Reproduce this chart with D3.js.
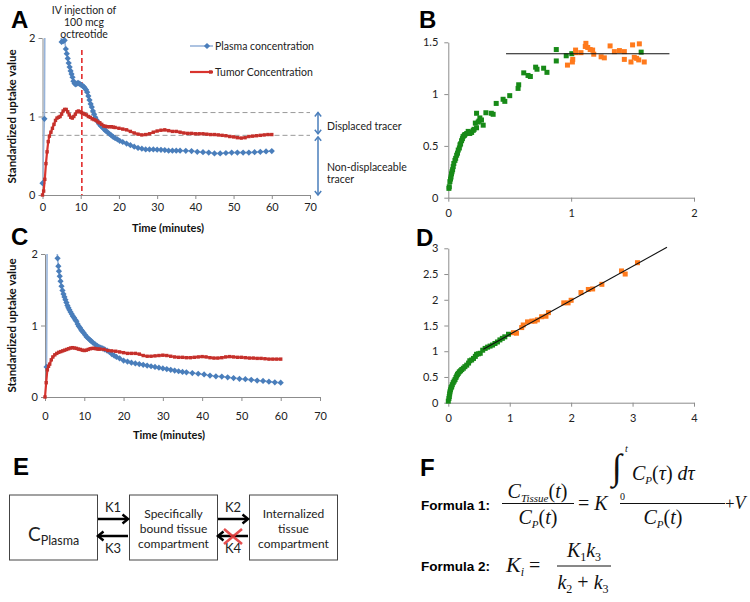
<!DOCTYPE html>
<html><head><meta charset="utf-8">
<script src="https://cdn.jsdelivr.net/npm/d3@7"></script>
<style>body{margin:0;background:#fff}svg{display:block}</style>
</head><body>
<script>
// ---------------- DATA ----------------
const timeTicks = [0,10,20,30,40,50,60,70];
const suvTicks = [0,1,2];

// Panel A
const plasmaA_t = [0,0.5,1,1.5,2,2.5,3,3.5,4,4.5,5.0,5.4,5.8,6.1,6.35,6.6,6.85,7.1,7.35,7.6,7.85,8.1,8.4,8.7,9.0,9.3,9.6,9.9,10.2,10.5,10.8,11.1,11.4,11.7,12.0,12.3,12.6,12.9,13.2,13.5,13.8,14.1,14.5,14.9,15.3,15.7,16.1,16.5,17.0,17.5,18.0,18.5,19.0,19.6,20.2,21,22,23,24,25,26,27,28,29,30,31,32,33,34,35,36,37.5,39,40.5,42,43.5,45,46.5,48,49.5,51,52.5,54,55.5,57,58.5,60];
const plasmaA_v = [0.15,0.97,6.5,5.2,4.3,3.6,3.1,2.7,2.4,2.15,1.95,1.96,1.97,1.86,1.8,1.74,1.68,1.63,1.58,1.54,1.5,1.45,1.42,1.41,1.42,1.43,1.42,1.41,1.4,1.39,1.38,1.36,1.34,1.31,1.26,1.21,1.16,1.12,1.07,1.03,0.99,0.96,0.93,0.9,0.88,0.86,0.84,0.82,0.8,0.78,0.76,0.74,0.725,0.71,0.69,0.675,0.655,0.635,0.615,0.6,0.59,0.58,0.58,0.58,0.578,0.575,0.572,0.565,0.565,0.565,0.565,0.563,0.56,0.55,0.545,0.54,0.53,0.53,0.535,0.54,0.54,0.54,0.54,0.545,0.55,0.555,0.56];
const tumorA_t = [0,0.3,0.6,0.9,1.2,1.5,1.8,2.2,2.6,3.0,3.4,3.8,4.2,4.6,5.0,5.4,5.8,6.2,6.6,7.0,7.4,7.8,8.2,8.6,9.0,9.4,9.8,10.2,10.6,11.0,11.5,12,12.5,13,13.5,14,14.5,15,15.5,16,16.5,17,17.5,18,18.5,19,20,21,22,23,24,25,26,27,28,29,30,31,32,33,34,35,36,37,38,39,40,41,42,43,44,45,46,47,48,49,50,51,52,53,54,55,56,57,58,59,60];
const tumorA_v = [0,0.05,0.2,0.4,0.55,0.68,0.75,0.8,0.85,0.9,0.95,0.98,0.99,1.0,1.03,1.07,1.09,1.09,1.06,1.02,0.99,0.98,1.0,1.03,1.06,1.07,1.06,1.05,1.04,1.03,1.02,1.0,0.99,0.97,0.96,0.95,0.93,0.92,0.9,0.88,0.875,0.87,0.87,0.87,0.865,0.86,0.85,0.84,0.83,0.81,0.79,0.775,0.765,0.77,0.78,0.8,0.815,0.825,0.83,0.82,0.81,0.81,0.8,0.79,0.785,0.785,0.78,0.78,0.78,0.775,0.77,0.77,0.765,0.76,0.755,0.745,0.74,0.73,0.725,0.73,0.745,0.75,0.755,0.76,0.765,0.77,0.77];
const displacedLevels = [1.05, 0.76];
const injectionTime = 10.3;

// Panel C
const plasmaC_t = [0.4,1,1.5,2,2.5,3.0,3.2,3.4,3.55,3.75,3.95,4.2,4.45,4.7,4.95,5.2,5.45,5.7,5.95,6.2,6.5,6.8,7.1,7.4,7.7,8.0,8.3,8.6,8.9,9.2,9.5,9.8,10.2,10.6,11.0,11.4,11.8,12.2,12.7,13.2,13.7,14.2,14.7,15.2,15.8,16.4,17.0,17.6,18.2,19,20,21,22,23,24,25,26,27,28,29,30,31,32,33,34,35,36,37.5,39,40.5,42,43.5,45,46.5,48,49.5,51,52.5,54,55.5,57,58.5,60];
const plasmaC_v = [0.42,8,5,3.5,2.6,2.1,1.94,1.83,1.76,1.69,1.62,1.55,1.49,1.44,1.4,1.36,1.32,1.28,1.25,1.22,1.19,1.16,1.13,1.11,1.08,1.06,1.02,0.99,0.97,0.94,0.92,0.9,0.87,0.84,0.82,0.8,0.78,0.76,0.74,0.72,0.7,0.69,0.68,0.665,0.65,0.63,0.6,0.58,0.56,0.54,0.51,0.495,0.48,0.47,0.46,0.45,0.44,0.43,0.42,0.41,0.4,0.39,0.38,0.37,0.36,0.35,0.345,0.335,0.325,0.315,0.3,0.29,0.285,0.275,0.265,0.255,0.25,0.24,0.23,0.225,0.215,0.205,0.2];
const tumorC_t = [0,0.3,0.6,0.9,1.2,1.6,2.0,2.5,3.0,3.5,4.0,4.5,5.0,5.5,6.0,6.5,7.0,7.5,8.0,8.5,9.0,9.5,10,10.5,11,11.5,12,12.5,13,13.5,14,15,16,17,18,19,20,21,22,23,24,25,26,27,28,29,30,31,32,33,34,35,36,37,38,39,40,41,42,43,44,45,46,47,48,49,50,51,52,53,54,55,56,57,58,59,60];
const tumorC_v = [0,0.2,0.38,0.43,0.46,0.52,0.56,0.59,0.61,0.625,0.635,0.645,0.655,0.665,0.675,0.685,0.69,0.685,0.68,0.67,0.665,0.655,0.65,0.655,0.665,0.675,0.68,0.68,0.675,0.67,0.67,0.665,0.65,0.645,0.64,0.63,0.62,0.61,0.61,0.61,0.6,0.58,0.57,0.57,0.575,0.58,0.585,0.58,0.57,0.56,0.555,0.555,0.55,0.55,0.555,0.56,0.565,0.56,0.55,0.545,0.545,0.55,0.56,0.565,0.56,0.555,0.555,0.55,0.545,0.545,0.54,0.54,0.535,0.53,0.53,0.53,0.53];

// Panel B
const bTicksX = [0,1,2];
const bTicksY = [0,0.5,1,1.5];
const bGreen_x = [0.005,0.008,0.013,0.018,0.022,0.026,0.03,0.035,0.04,0.045,0.054,0.06,0.068,0.075,0.081,0.09,0.095,0.1,0.108,0.115,0.12,0.13,0.135,0.15,0.162,0.175,0.19,0.203,0.21,0.22,0.23,0.23,0.243,0.25,0.257,0.27,0.284,0.306,0.35,0.365,0.39,0.446,0.46,0.5,0.568,0.573,0.614,0.649,0.668,0.711,0.722,0.776,0.803,0.879,0.879,0.96,1.005,1.57];
const bGreen_y = [0.09,0.106,0.155,0.18,0.2,0.23,0.25,0.27,0.3,0.33,0.36,0.38,0.41,0.43,0.46,0.48,0.51,0.52,0.55,0.57,0.59,0.6,0.61,0.62,0.64,0.62,0.63,0.65,0.66,0.72,0.675,0.815,0.73,0.74,0.77,0.75,0.7,0.82,0.815,0.805,0.91,0.95,0.93,0.985,1.055,1.09,1.205,1.18,1.17,1.26,1.24,1.25,1.21,1.43,1.32,1.37,1.39,1.405];
const bOrange_x = [0.97,1.01,1.013,1.036,1.04,1.08,1.115,1.12,1.135,1.155,1.175,1.184,1.244,1.27,1.317,1.352,1.393,1.433,1.433,1.487,1.5,1.514,1.533,1.55,1.555,1.595];
const bOrange_y = [1.28,1.31,1.335,1.425,1.4,1.4,1.46,1.49,1.45,1.43,1.425,1.385,1.36,1.35,1.465,1.41,1.42,1.41,1.335,1.31,1.475,1.355,1.345,1.33,1.485,1.31];
const bFit_x = [0.47,1.80];
const bFit_y = [1.39,1.39];

// Panel D
const dTicksX = [0,1,2,3,4];
const dTicksY = [0,0.5,1,1.5,2,2.5,3];
const dGreen_x = [0,0.01,0.016,0.022,0.027,0.035,0.045,0.055,0.065,0.08,0.095,0.11,0.125,0.137,0.15,0.163,0.18,0.2,0.22,0.245,0.27,0.3,0.33,0.35,0.38,0.41,0.44,0.46,0.49,0.52,0.56,0.6,0.64,0.68,0.72,0.76,0.8,0.84,0.88,0.92,0.98];
const dGreen_y = [0.03,0.08,0.12,0.17,0.21,0.25,0.29,0.31,0.35,0.39,0.42,0.45,0.49,0.52,0.55,0.57,0.6,0.62,0.645,0.67,0.7,0.73,0.77,0.815,0.83,0.86,0.9,0.94,0.95,0.96,1.02,1.055,1.08,1.1,1.12,1.15,1.18,1.22,1.25,1.28,1.33];
const dOrange_x = [1.06,1.11,1.195,1.22,1.29,1.36,1.41,1.45,1.52,1.59,1.63,1.88,1.95,2.0,2.16,2.28,2.35,2.5,2.82,2.88,3.08];
const dOrange_y = [1.36,1.35,1.46,1.51,1.57,1.585,1.585,1.61,1.67,1.68,1.75,1.94,1.94,1.99,2.14,2.2,2.21,2.3,2.56,2.5,2.72];
const dFit_x = [0.57,3.56];
const dFit_y = [1.04,3.02];

// ---------------- STYLE ----------------
const FONT = "Lato, 'Open Sans', sans-serif";
const PL_MARK = "#4a7ebb", PL_LINE = "#98b4da";
const TU_LINE = "#d9342e", TU_MARK = "#c4302b";
const GREEN = "#178a17", ORANGE = "#ff7a1c";
const AXIS = "#8c8c8c";

const svg = d3.select("body").append("svg").attr("width",750).attr("height",602)
  .style("font-family",FONT);

function styleAxis(g){
  g.select(".domain").attr("stroke",AXIS).attr("stroke-width",1);
  g.selectAll(".tick line").attr("stroke",AXIS);
  g.selectAll(".tick text").attr("fill","#222").style("font-size","11px").style("font-family",FONT);
}

function panelLetter(t,x,y){
  svg.append("text").attr("x",x).attr("y",y).text(t)
    .style("font-family","'Liberation Sans', Arial, sans-serif").style("font-weight","bold").style("font-size","24px").attr("fill","#000");
}

function timePanel(o){
  const x = d3.scaleLinear().domain([0,70]).range([o.x0,o.x1]);
  const y = d3.scaleLinear().domain([0,2]).range([o.y0,o.y1]);
  const g = svg.append("g");
  g.append("g").attr("transform",`translate(0,${o.y0})`)
    .call(d3.axisBottom(x).tickValues(timeTicks).tickFormat(d=>String(d)).tickSize(4).tickSizeOuter(0).tickPadding(o.xpad)).call(styleAxis);
  g.append("g").attr("transform",`translate(${o.x0},0)`)
    .call(d3.axisLeft(y).tickValues(suvTicks).tickFormat(d=>String(d)).tickSize(4).tickSizeOuter(0).tickPadding(3)).call(styleAxis);
  svg.append("clipPath").attr("id",o.id).append("rect")
    .attr("x",o.x0).attr("y",o.y1).attr("width",o.x1-o.x0).attr("height",o.y0-o.y1);
  const plasma = o.pt.map((t,i)=>({t, v:o.pv[i]}));
  const tumor = o.tt.map((t,i)=>({t, v:o.tv[i]}));
  const line = d3.line().x(d=>x(d.t)).y(d=>y(d.v));
  if (o.extra) o.extra(g,x,y);
  g.append("path").datum(plasma).attr("d",line).attr("fill","none")
    .attr("stroke",PL_LINE).attr("stroke-width",1.6).attr("clip-path",`url(#${o.id})`);
  g.selectAll(null).data(plasma.filter(d=>d.v<=2)).join("rect")
    .attr("x",-2.2).attr("y",-2.2).attr("width",4.4).attr("height",4.4).attr("fill",PL_MARK)
    .attr("transform",d=>`translate(${x(d.t)},${y(d.v)}) rotate(45)`);
  g.append("path").datum(tumor).attr("d",line).attr("fill","none")
    .attr("stroke",TU_LINE).attr("stroke-width",2.2);
  g.selectAll(null).data(tumor).join("rect")
    .attr("x",d=>x(d.t)-1.7).attr("y",d=>y(d.v)-1.7).attr("width",3.4).attr("height",3.4)
    .attr("fill",TU_MARK);
  svg.append("text").attr("transform",`translate(${o.ylabX},${(o.y0+o.y1)/2}) rotate(-90)`)
    .attr("text-anchor","middle").style("font-weight","bold").style("font-size","11.5px").attr("fill","#111")
    .text("Standardized uptake value");
  svg.append("text").attr("x",o.xlabX).attr("y",o.xlabY).attr("text-anchor","middle")
    .style("font-weight","bold").style("font-size","11px").attr("fill","#111").text("Time (minutes)");
  return {x,y};
}

function chevron(g,x,y,dir,size,color,w){
  const a = dir*Math.PI/180, s=size;
  const p1=[x - s*Math.cos(a) + s*0.8*Math.sin(a), y - s*Math.sin(a) - s*0.8*Math.cos(a)];
  const p2=[x - s*Math.cos(a) - s*0.8*Math.sin(a), y - s*Math.sin(a) + s*0.8*Math.cos(a)];
  g.append("path").attr("d",`M${p1}L${x},${y}L${p2}`).attr("fill","none")
    .attr("stroke",color).attr("stroke-width",w).attr("stroke-linejoin","miter");
}

// ---------------- PANEL A ----------------
panelLetter("A",11,28);
timePanel({id:"clipA",x0:42.5,x1:310,y0:195,y1:38,xpad:4,pt:plasmaA_t,pv:plasmaA_v,tt:tumorA_t,tv:tumorA_v,
  ylabX:16,xlabX:168,xlabY:232,
  extra:(g,x,y)=>{
    g.selectAll(null).data(displacedLevels).join("line")
      .attr("x1",x(0)).attr("x2",x(70)).attr("y1",d=>y(d)).attr("y2",d=>y(d))
      .attr("stroke","#999").attr("stroke-width",1).attr("stroke-dasharray","5,3");
    g.append("line").attr("x1",x(injectionTime)).attr("x2",x(injectionTime)).attr("y1",50).attr("y2",y(0))
      .attr("stroke","#e01e1e").attr("stroke-width",1.5).attr("stroke-dasharray","5,3");
    const ax=318;
    const segs=[[y(displacedLevels[0]),y(displacedLevels[1])-1.5],[y(displacedLevels[1])+1.5,y(0)]];
    segs.forEach(([a,b])=>{
      g.append("line").attr("x1",ax).attr("x2",ax).attr("y1",a).attr("y2",b).attr("stroke",PL_MARK).attr("stroke-width",1.5);
      chevron(g,ax,a,-90,4,PL_MARK,1.5);
      chevron(g,ax,b,90,4,PL_MARK,1.5);
    });
    const lg=[{t:"Plasma concentration",y:46,c:PL_LINE,m:PL_MARK,d:true},{t:"Tumor Concentration",y:72,c:TU_LINE,m:TU_MARK,d:false}];
    lg.forEach(l=>{
      g.append("line").attr("x1",190).attr("x2",213).attr("y1",l.y).attr("y2",l.y).attr("stroke",l.c).attr("stroke-width",l.d?1.6:2.2);
      if(l.d) g.append("rect").attr("x",-2.2).attr("y",-2.2).attr("width",4.4).attr("height",4.4).attr("fill",l.m).attr("transform",`translate(207,${l.y}) rotate(45)`);
      else g.append("rect").attr("x",209).attr("y",l.y-1.7).attr("width",3.4).attr("height",3.4).attr("fill",l.m);
      g.append("text").attr("x",215).attr("y",l.y+3.5).text(l.t).style("font-size","10.5px").attr("fill","#222");
    });
  }});
["IV injection of","100 mcg","octreotide"].forEach((t,i)=>{
  svg.append("text").attr("x",84).attr("y",13.5+i*12).attr("text-anchor","middle").style("font-size","10.5px").attr("fill","#222").text(t);
});
[["Displaced tracer",130],["Non-displaceable",171],["tracer",183]].forEach(([t,yy])=>{
  svg.append("text").attr("x",327).attr("y",yy).style("font-size","10.5px").attr("fill","#222").text(t);
});

// ---------------- PANEL C ----------------
panelLetter("C",11,245);
timePanel({id:"clipC",x0:45,x1:320,y0:397,y1:254,xpad:11,pt:plasmaC_t,pv:plasmaC_v,tt:tumorC_t,tv:tumorC_v,
  ylabX:16,xlabX:169,xlabY:439});

// ---------------- PANELS B, D ----------------
function scatterPanel(o){
  const x=d3.scaleLinear().domain(o.xd).range([o.x0,o.x1]);
  const y=d3.scaleLinear().domain(o.yd).range([o.y0,o.y1]);
  const g=svg.append("g");
  g.append("g").attr("transform",`translate(0,${o.y0})`)
    .call(d3.axisBottom(x).tickValues(o.xt).tickFormat(d=>String(d)).tickSize(4).tickSizeOuter(0).tickPadding(8)).call(styleAxis);
  g.append("g").attr("transform",`translate(${o.x0},0)`)
    .call(d3.axisLeft(y).tickValues(o.yt).tickFormat(d=>String(d)).tickSize(4).tickSizeOuter(0).tickPadding(6)).call(styleAxis);
  const drawPts=(xs,ys,c)=>g.selectAll(null).data(xs.map((v,i)=>[v,ys[i]])).join("rect")
    .attr("x",d=>x(d[0])-2.5).attr("y",d=>y(d[1])-2.5).attr("width",5).attr("height",5).attr("fill",c);
  drawPts(o.gx,o.gy,GREEN);
  drawPts(o.ox,o.oy,ORANGE);
  g.append("line").attr("x1",x(o.fx[0])).attr("x2",x(o.fx[1])).attr("y1",y(o.fy[0])).attr("y2",y(o.fy[1]))
    .attr("stroke","#111").attr("stroke-width",1.1);
}
panelLetter("B",419,28);
scatterPanel({xd:[0,2],yd:[0,1.5],x0:448.3,x1:694,y0:197.7,y1:42.3,xt:bTicksX,yt:bTicksY,
  gx:bGreen_x,gy:bGreen_y,ox:bOrange_x,oy:bOrange_y,fx:bFit_x,fy:bFit_y});
panelLetter("D",416,246);
scatterPanel({xd:[0,4],yd:[0,3],x0:448.3,x1:694,y0:402.7,y1:248.3,xt:dTicksX,yt:dTicksY,
  gx:dGreen_x,gy:dGreen_y,ox:dOrange_x,oy:dOrange_y,fx:dFit_x,fy:dFit_y});

// ---------------- PANEL E ----------------
panelLetter("E",13,475);
const boxes=[{x:9.5,lines:null},{x:129.5,lines:["Specifically","bound tissue","compartment"]},{x:249.5,lines:["Internalized","tissue","compartment"]}];
boxes.forEach(b=>{
  svg.append("rect").attr("x",b.x).attr("y",495).attr("width",88).attr("height",65).attr("fill","none").attr("stroke","#444").attr("stroke-width",1);
  if(b.lines) b.lines.forEach((t,i)=>svg.append("text").attr("x",b.x+44).attr("y",517.5+i*15).attr("text-anchor","middle").style("font-size","12px").attr("fill","#222").text(t));
});
const cp=svg.append("text").attr("x",28).attr("y",541).attr("fill","#222");
cp.append("tspan").text("C").style("font-size","19px");
cp.append("tspan").text("Plasma").style("font-size","12.5px").attr("dy",4);
const eg=svg.append("g");
[[98,128,"right","K1",511.5,519],[128,98,"left","K3",553,536],[218,248,"right","K2",511.5,519],[248,218,"left","K4",553,536]].forEach(([a,b,d,lab,ly,y])=>{
  eg.append("line").attr("x1",a).attr("x2",b-(d==="right"?1:-1)).attr("y1",y).attr("y2",y).attr("stroke","#000").attr("stroke-width",2.5);
  chevron(eg,b,y,d==="right"?0:180,5.5,"#000",2.5);
  eg.append("text").attr("x",(a+b)/2).attr("y",ly).attr("text-anchor","middle").style("font-size","13px").attr("fill","#222").text(lab);
});
eg.append("path").attr("d","M224,529L242,544M224,544L242,529").attr("stroke","#e23b3b").attr("stroke-width",2.6).attr("fill","none").attr("opacity",0.9);

// ---------------- PANEL F ----------------
panelLetter("F",420,476);
const SER="'Liberation Serif','Times New Roman',serif";
const LAB="'Liberation Sans',Arial,sans-serif";
svg.append("text").attr("x",421).attr("y",510).text("Formula 1:").style("font-family",LAB).style("font-weight","bold").style("font-size","13.5px");
svg.append("text").attr("x",421).attr("y",571).text("Formula 2:").style("font-family",LAB).style("font-weight","bold").style("font-size","13.5px");
function mtext(x,y,parts,anchor){
  const t=svg.append("text").attr("x",x).attr("y",y).style("font-family",SER).attr("text-anchor",anchor||"start").attr("fill","#111");
  parts.forEach(p=>{
    const s=t.append("tspan").text(p.t).style("font-size",(p.s||20)+"px").style("font-style",p.i?"italic":"normal");
    if(p.dy) s.attr("dy",p.dy);
  });
  return t;
}
mtext(537.5,498,[{t:"C",i:1},{t:"Tissue",i:1,s:11,dy:4},{t:"(",dy:-4},{t:"t",i:1},{t:")"}],"middle");
svg.append("line").attr("x1",502).attr("x2",574).attr("y1",503.5).attr("y2",503.5).attr("stroke","#111").attr("stroke-width",1);
mtext(538,524,[{t:"C",i:1},{t:"P",i:1,s:11,dy:4},{t:"(",dy:-4},{t:"t",i:1},{t:")"}],"middle");
mtext(578,510,[{t:"= "},{t:"K",i:1}]);
mtext(612,479,[{t:"∫",s:36}]);
mtext(625,452,[{t:"t",i:1,s:10}]);
mtext(620,500,[{t:"0",s:10}]);
mtext(632,480,[{t:"C",i:1},{t:"P",i:1,s:11,dy:4},{t:"(",dy:-4},{t:"τ",i:1},{t:") "},{t:"d",i:1},{t:"τ",i:1}]);
svg.append("line").attr("x1",620).attr("x2",725).attr("y1",503.5).attr("y2",503.5).attr("stroke","#111").attr("stroke-width",1);
mtext(663,524,[{t:"C",i:1},{t:"P",i:1,s:11,dy:4},{t:"(",dy:-4},{t:"t",i:1},{t:")"}],"middle");
mtext(725,509,[{t:"+",s:17},{t:"V",i:1,s:18}]);
mtext(506,572,[{t:"K",i:1,s:22},{t:"i",i:1,s:12,dy:4},{t:" = ",dy:-4}]);
mtext(584,557,[{t:"K",i:1},{t:"1",s:12,dy:4},{t:"k",i:1,dy:-4},{t:"3",s:12,dy:4}],"middle");
svg.append("line").attr("x1",557).attr("x2",611).attr("y1",566).attr("y2",566).attr("stroke","#111").attr("stroke-width",1);
mtext(583,589,[{t:"k",i:1},{t:"2",s:12,dy:4},{t:" + ",dy:-4},{t:"k",i:1},{t:"3",s:12,dy:4}],"middle");
</script>
</body></html>
